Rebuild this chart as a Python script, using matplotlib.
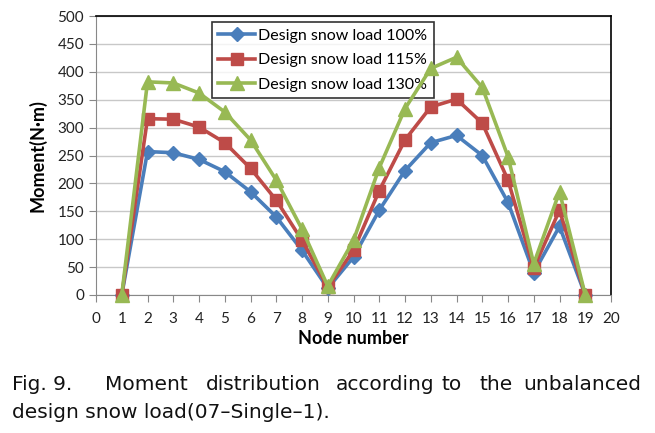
"""Moment distribution along node numbers for three design snow load levels."""

import matplotlib

matplotlib.use("Agg")
import matplotlib.pyplot as plt

nodes = list(range(1, 20))
load_100 = [0, 257, 255, 243, 221, 185, 140, 80, 12, 68, 152, 223, 273, 286, 250, 166, 40, 123, 0]
load_115 = [0, 316, 315, 301, 273, 227, 170, 98, 14, 80, 187, 278, 337, 351, 308, 206, 48, 152, 0]
load_130 = [0, 382, 380, 362, 328, 278, 206, 118, 16, 98, 228, 334, 406, 426, 372, 248, 56, 185, 0]
series_labels = ["Design snow load 100%", "Design snow load 115%", "Design snow load 130%"]
x_ticks = list(range(0, 21))
y_ticks = list(range(0, 501, 50))

caption_line1 = ["Fig. 9.", "Moment", "distribution", "according", "to", "the", "unbalanced"]
caption_line2 = "design snow load(07\u2013Single\u20131)."

plt.rcParams["font.family"] = ["Lato", "DejaVu Sans"]

fig = plt.figure(figsize=(6.55, 4.33), dpi=100)
ax = fig.add_axes([96 / 655, 1 - 295 / 433, (611 - 96) / 655, (295 - 16) / 433])

styles = [
    ("#4A7EBB", "D", 7),
    ("#BE4B48", "s", 8),
    ("#98B954", "^", 9.5),
]
for vals, label, (color, marker, ms) in zip([load_100, load_115, load_130], series_labels, styles):
    ax.plot(nodes, vals, color=color, lw=2.6, marker=marker, ms=ms,
            markeredgecolor=color, label=label, clip_on=False, zorder=3)

ax.set_xlim(0, 20)
ax.set_ylim(0, 500)
ax.set_xticks(x_ticks)
ax.set_yticks(y_ticks)
ax.grid(axis="y", color="#c8c8c8", lw=1)
ax.set_axisbelow(True)
ax.tick_params(axis="both", direction="out", length=5, color="#888888",
               labelsize=11, labelcolor="#222222")
ax.tick_params(axis="x", pad=7)
for side in ("left", "bottom"):
    ax.spines[side].set_color("#888888")
for side in ("top", "right"):
    ax.spines[side].set_color("black")
    ax.spines[side].set_linewidth(1.2)

ax.set_xlabel("Node number", fontsize=13, fontweight="bold", labelpad=3)
ax.set_ylabel("Moment(N\u00b7m)", fontsize=13, fontweight="bold", labelpad=8)

leg = ax.legend(loc="upper left", bbox_to_anchor=(0.225, 0.978), fontsize=11.5,
                frameon=True, fancybox=False, borderpad=0.4, labelspacing=0.65,
                handlelength=2.3, handletextpad=0.2, borderaxespad=0)
leg.get_frame().set_edgecolor("black")
leg.get_frame().set_linewidth(1.2)
leg.set_zorder(2)  # series lines run over the legend box

# caption, justified by hand on the first line
cap_font = dict(fontsize=14.5, color="#111111", family=["DejaVu Sans"])
word_x = [12, 105, 206, 336, 442, 479]
for word, x in zip(caption_line1[:-1], word_x):
    fig.text(x / 655, 1 - 385 / 433, word, ha="left", va="center", **cap_font)
fig.text(641 / 655, 1 - 385 / 433, caption_line1[-1], ha="right", va="center", **cap_font)
fig.text(12 / 655, 1 - 413 / 433, caption_line2, ha="left", va="center", **cap_font)

fig.savefig("out.png", dpi=100)
plt.close(fig)
